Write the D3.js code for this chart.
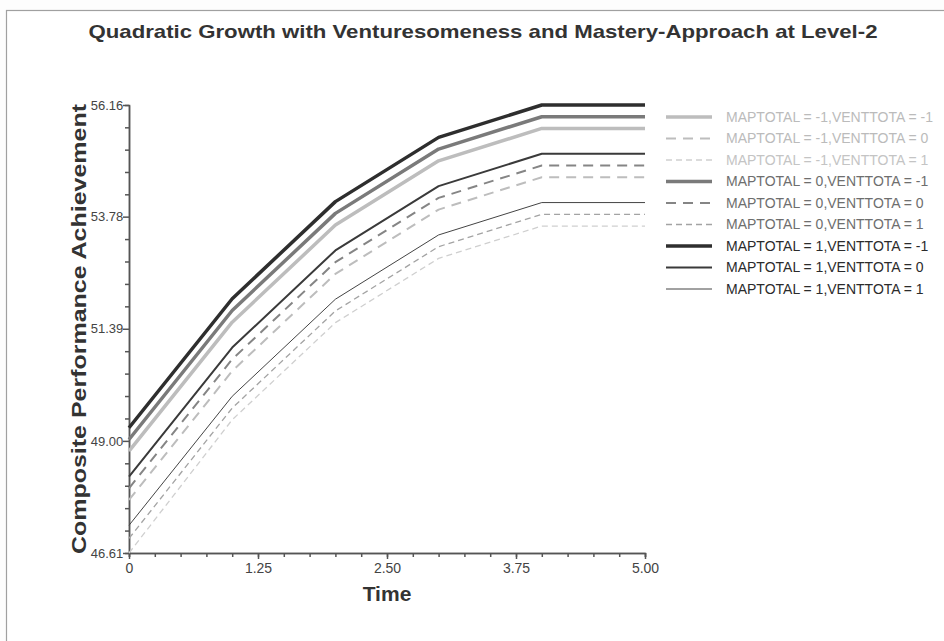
<!DOCTYPE html>
<html>
<head>
<meta charset="utf-8">
<script src="https://cdn.jsdelivr.net/npm/d3@7"></script>
<style>
  body { margin: 0; background: #fdfdfd; }
  text { font-family: "Liberation Sans", Arial, sans-serif; }
</style>
</head>
<body>
<svg id="chart" width="944" height="641"></svg>
<script>
// time points and tick labels
var times = [0, 1, 2, 3, 4, 5]
var xTicks = [0, 1.25, 2.5, 3.75, 5]
var yTicks = [46.61, 49.00, 51.39, 53.78, 56.16]

// series names (legend order)
var names = [
  "MAPTOTAL = -1,VENTTOTA = -1",
  "MAPTOTAL = -1,VENTTOTA = 0",
  "MAPTOTAL = -1,VENTTOTA = 1",
  "MAPTOTAL = 0,VENTTOTA = -1",
  "MAPTOTAL = 0,VENTTOTA = 0",
  "MAPTOTAL = 0,VENTTOTA = 1",
  "MAPTOTAL = 1,VENTTOTA = -1",
  "MAPTOTAL = 1,VENTTOTA = 0",
  "MAPTOTAL = 1,VENTTOTA = 1"
]

// values
var mLowVLow  = [48.78, 51.53, 53.60, 54.97, 55.66, 55.66]
var mLowVMid  = [47.74, 50.49, 52.56, 53.93, 54.62, 54.62]
var mLowVHigh = [46.61, 49.45, 51.52, 52.89, 53.58, 53.58]
var mMidVLow  = [49.03, 51.78, 53.85, 55.22, 55.91, 55.91]
var mMidVMid  = [47.99, 50.74, 52.81, 54.18, 54.87, 54.87]
var mMidVHigh = [46.92, 49.70, 51.77, 53.14, 53.83, 53.83]
var mHiVLow   = [49.28, 52.03, 54.10, 55.47, 56.16, 56.16]
var mHiVMid   = [48.24, 50.99, 53.06, 54.43, 55.12, 55.12]
var mHiVHigh  = [47.20, 49.95, 52.02, 53.39, 54.08, 54.08]

var values = [mLowVLow, mLowVMid, mLowVHigh, mMidVLow, mMidVMid, mMidVHigh, mHiVLow, mHiVMid, mHiVHigh]

// looks
var colors = ["#bdbdbd", "#bdbdbd", "#cfcfcf", "#7a7a7a", "#858585", "#a3a3a3", "#2e2e2e", "#3a3a3a", "#444444"]
var widths = [3.5, 2, 1.3, 3.5, 2, 1.3, 3.5, 2, 1]
var dashes = [null, "10,7", "6,4", null, "10,7", "6,4", null, null, null]
var textColors = ["#bbbbbb", "#bbbbbb", "#c4c4c4", "#6e6e6e", "#6e6e6e", "#6e6e6e", "#2b2b2b", "#2b2b2b", "#2b2b2b"]

var svg = d3.select("#chart")

// frame
svg.append("rect")
  .attr("x", 6.5).attr("y", 10.5)
  .attr("width", 960).attr("height", 660)
  .attr("fill", "#ffffff")
  .attr("stroke", "#a0a0a0")
  .attr("stroke-width", 1.2)

var plotLeft = 129, plotRight = 645, plotTop = 105, plotBottom = 553

var x = d3.scaleLinear().domain([0, 5]).range([plotLeft, plotRight])
var y = d3.scaleLinear().domain([46.61, 56.16]).range([plotBottom, plotTop])

// minor ticks
var xMinor = d3.range(0, 5.0001, 0.25)
var yMinor = []
for (var i = 0; i < yTicks.length - 1; i++) {
  for (var k = 1; k < 5; k++) yMinor.push(yTicks[i] + (yTicks[i + 1] - yTicks[i]) * k / 5)
}

var axisColor = "#555"

var gx = svg.append("g").attr("transform", "translate(0," + plotBottom + ")")
gx.call(d3.axisBottom(x).tickValues(xMinor).tickSize(4).tickFormat(""))
gx.append("g").call(d3.axisBottom(x).tickValues(xTicks).tickSize(6).tickSizeOuter(0)
  .tickFormat(function(d) { return d === 0 ? "0" : d.toFixed(2) }))
gx.selectAll("path, line").attr("stroke", axisColor).attr("stroke-width", 1.5)
gx.selectAll("text").attr("font-size", 14).attr("fill", "#444").attr("dy", "0.8em")

var gy = svg.append("g").attr("transform", "translate(" + plotLeft + ",0)")
gy.call(d3.axisLeft(y).tickValues(yMinor).tickSize(4).tickFormat(""))
gy.append("g").call(d3.axisLeft(y).tickValues(yTicks).tickSize(6).tickSizeOuter(0)
  .tickFormat(d3.format(".2f")))
gy.selectAll("path, line").attr("stroke", axisColor).attr("stroke-width", 1.5)
gy.selectAll("text").attr("font-size", 13).attr("fill", "#444").attr("dx", "0.25em")

// lines
var line = d3.line().x(function(d, i) { return x(times[i]) }).y(function(d) { return y(d) })

svg.append("g").selectAll("path")
  .data(values)
  .enter().append("path")
  .attr("d", line)
  .attr("fill", "none")
  .attr("stroke", function(d, i) { return colors[i] })
  .attr("stroke-width", function(d, i) { return widths[i] })
  .attr("stroke-dasharray", function(d, i) { return dashes[i] })
  .attr("stroke-linejoin", "round")

// legend
var legend = svg.append("g").attr("transform", "translate(666,117)")
var rows = legend.selectAll("g").data(names).enter().append("g")
  .attr("transform", function(d, i) { return "translate(0," + (i * 21.5) + ")" })
rows.append("line")
  .attr("x1", 0).attr("x2", 46)
  .attr("stroke", function(d, i) { return colors[i] })
  .attr("stroke-width", function(d, i) { return widths[i] })
  .attr("stroke-dasharray", function(d, i) { return dashes[i] })
rows.append("text")
  .attr("x", 60).attr("dy", "0.35em")
  .attr("font-size", 14)
  .attr("fill", function(d, i) { return textColors[i] })
  .text(function(d) { return d })

// titles
svg.append("text")
  .attr("x", 483).attr("y", 38)
  .attr("text-anchor", "middle")
  .attr("font-size", 19).attr("font-weight", "bold").attr("fill", "#333")
  .attr("textLength", 789).attr("lengthAdjust", "spacingAndGlyphs")
  .text("Quadratic Growth with Venturesomeness and Mastery-Approach at Level-2")

svg.append("text")
  .attr("x", 387).attr("y", 601)
  .attr("text-anchor", "middle")
  .attr("font-size", 21).attr("font-weight", "bold").attr("fill", "#333")
  .text("Time")

svg.append("text")
  .attr("transform", "translate(86,329) rotate(-90)")
  .attr("text-anchor", "middle")
  .attr("font-size", 20).attr("font-weight", "bold").attr("fill", "#333")
  .attr("textLength", 450).attr("lengthAdjust", "spacingAndGlyphs")
  .text("Composite Performance Achievement")
</script>
</body>
</html>
